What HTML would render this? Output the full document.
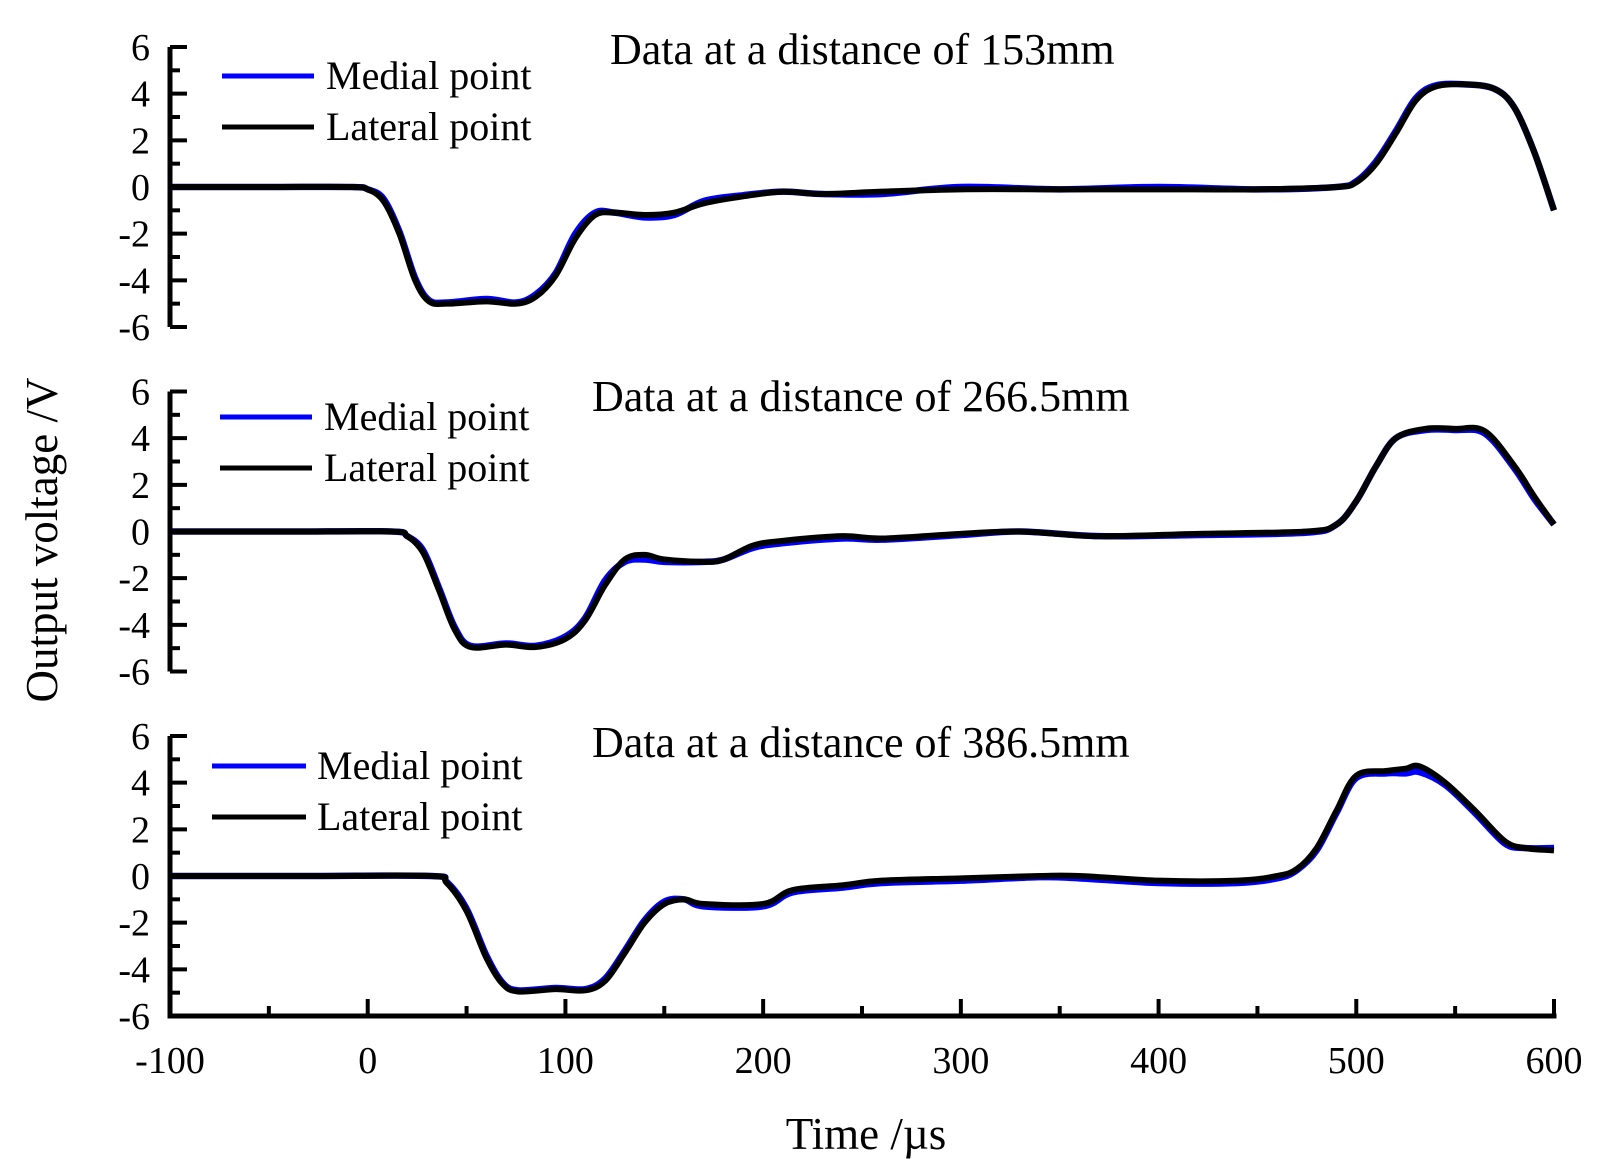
<!DOCTYPE html>
<html><head><meta charset="utf-8"><style>
html,body{margin:0;padding:0;background:#fff;}
svg{display:block;font-family:"Liberation Serif",serif;}
</style></head><body>
<svg id="chart" width="1603" height="1165" viewBox="0 0 1603 1165" xmlns="http://www.w3.org/2000/svg"></svg>
<script>
const xTicks = [-100,0,100,200,300,400,500,600];
const yTicks = [-6,-4,-2,0,2,4,6];
const panelTitles = ["Data at a distance of 153mm","Data at a distance of 266.5mm","Data at a distance of 386.5mm"];
const lateralT1 = [-100,-50,-8,0,8,16,24,31,40,60,75,85,95,105,115,125,140,155,170,190,210,230,260,300,350,400,450,490,500,510,520,530,540,555,570,580,590,600];
const lateralV1 = [0,0,0,-0.1,-0.6,-2.0,-4.0,-4.9,-5.0,-4.9,-5.0,-4.7,-3.8,-2.2,-1.2,-1.1,-1.2,-1.1,-0.7,-0.4,-0.2,-0.3,-0.2,-0.1,-0.1,-0.1,-0.1,0,0.2,1.0,2.3,3.7,4.3,4.4,4.2,3.4,1.5,-1.0];
const medialV1 = [0,0,0,-0.1,-0.5,-1.9,-3.9,-4.85,-4.95,-4.8,-4.95,-4.6,-3.7,-2.0,-1.1,-1.1,-1.3,-1.2,-0.6,-0.35,-0.2,-0.3,-0.3,0,-0.1,0,-0.1,0,0.25,1.1,2.4,3.8,4.35,4.4,4.2,3.4,1.5,-1.0];
const lateralT2 = [-100,-40,12,20,28,36,44,52,70,85,100,110,120,130,140,150,170,180,195,210,240,260,300,330,370,420,475,490,500,510,520,535,550,565,580,590,600];
const lateralV2 = [0,0,0,-0.2,-0.9,-2.5,-4.2,-4.95,-4.85,-4.95,-4.6,-3.8,-2.3,-1.2,-1.0,-1.2,-1.3,-1.2,-0.6,-0.4,-0.2,-0.3,-0.1,0,-0.2,-0.1,0,0.3,1.3,2.8,4.0,4.4,4.4,4.3,2.8,1.5,0.3];
const medialV2 = [0,0,0,-0.2,-0.8,-2.4,-4.1,-4.9,-4.8,-4.9,-4.5,-3.7,-2.1,-1.3,-1.2,-1.3,-1.3,-1.2,-0.7,-0.5,-0.3,-0.35,-0.15,0,-0.2,-0.15,-0.05,0.3,1.3,2.8,4.0,4.35,4.35,4.2,2.7,1.4,0.3];
const lateralT3 = [-100,-30,32,40,50,60,68,76,95,110,120,130,140,150,160,170,200,215,240,260,300,340,360,400,440,460,470,480,490,500,515,525,532,545,560,575,585,600];
const lateralV3 = [0,0,0,-0.3,-1.5,-3.5,-4.6,-4.95,-4.85,-4.9,-4.5,-3.3,-2.0,-1.2,-1.0,-1.2,-1.2,-0.6,-0.4,-0.2,-0.1,0,0,-0.2,-0.2,0,0.3,1.2,2.8,4.3,4.5,4.6,4.7,4.0,2.8,1.5,1.2,1.1];
const medialV3 = [0,0,0,-0.25,-1.4,-3.4,-4.55,-4.9,-4.8,-4.85,-4.4,-3.2,-1.9,-1.1,-1.0,-1.3,-1.3,-0.7,-0.5,-0.3,-0.2,-0.05,-0.1,-0.3,-0.3,-0.1,0.25,1.1,2.7,4.2,4.4,4.4,4.45,3.9,2.7,1.4,1.2,1.2];
const panelData = [
  {t:lateralT1, lat:lateralV1, med:medialV1},
  {t:lateralT2, lat:lateralV2, med:medialV2},
  {t:lateralT3, lat:lateralV3, med:medialV3}
];
const NS="http://www.w3.org/2000/svg";
const svg=document.getElementById('chart');
const X0=170, X1=1554;
const xs=t=>X0+(t+100)/700*(X1-X0);
const tops=[47,391.5,736], H=280;
function mk(tag,attrs,parent){const e=document.createElementNS(NS,tag);for(const k in attrs)e.setAttribute(k,attrs[k]);(parent||svg).appendChild(e);return e;}
function pathFor(ts,vs,ys){
  const pts=ts.map((t,i)=>[xs(t),ys(vs[i])]);
  let d=`M${pts[0][0]},${pts[0][1]}`;
  for(let i=0;i<pts.length-1;i++){
    const p0=pts[Math.max(0,i-1)],p1=pts[i],p2=pts[i+1],p3=pts[Math.min(pts.length-1,i+2)];
    const c1=[p1[0]+(p2[0]-p0[0])/6,p1[1]+(p2[1]-p0[1])/6];
    const c2=[p2[0]-(p3[0]-p1[0])/6,p2[1]-(p3[1]-p1[1])/6];
    d+=` C${c1[0]},${c1[1]} ${c2[0]},${c2[1]} ${p2[0]},${p2[1]}`;
  }
  return d;
}
const legendX=[[222,314,326],[220,312,324],[212,306,317]];
const legendY=[[76,127],[417,468],[766,817]];
const titleX=[610,592,592], titleY=[64,411,757];
panelData.forEach((pd,pi)=>{
  const top=tops[pi];
  const ys=v=>top+(6-v)/12*H;
  const g=mk('g',{});
  
  
  const ax=mk('line',{x1:X0,y1:top,x2:X0,y2:top+H,stroke:'#000','stroke-width':5},g);
  
  
  for(let v=-6;v<=6;v++){
    const maj=v%2===0;
    const tk=mk('line',{x1:X0,y1:ys(v),x2:X0+(maj?17:10),y2:ys(v),stroke:'#000','stroke-width':4},g);
    
    
  }
  yTicks.forEach(v=>{
    const tx=mk('text',{x:150,y:ys(v)+13,'text-anchor':'end','font-size':38},g);
    tx.textContent=String(v);
    
    
  });
  const med=mk('path',{d:pathFor(pd.t,pd.med,ys),fill:'none',stroke:'#0000ff','stroke-width':6.5,'stroke-linejoin':'round'},g);
  
  
  const lat=mk('path',{d:pathFor(pd.t,pd.lat,ys),fill:'none',stroke:'#000','stroke-width':6,'stroke-linejoin':'round'},g);
  
  
  const ti=mk('text',{x:titleX[pi],y:titleY[pi],'font-size':44},g);
  ti.textContent=panelTitles[pi];
  
  
  const lx=legendX[pi], ly=legendY[pi];
  const l1=mk('line',{x1:lx[0],y1:ly[0],x2:lx[1],y2:ly[0],stroke:'#0000ff','stroke-width':5},g);
  
  
  const t1=mk('text',{x:lx[2],y:ly[0]+13,'font-size':40},g);
  t1.textContent='Medial point';
  
  
  const l2=mk('line',{x1:lx[0],y1:ly[1],x2:lx[1],y2:ly[1],stroke:'#000','stroke-width':5},g);
  
  
  const t2=mk('text',{x:lx[2],y:ly[1]+13,'font-size':40},g);
  t2.textContent='Lateral point';
  
  
});
const yb=tops[2]+H;
const xa=mk('line',{x1:X0-2.5,y1:yb,x2:X1+2.5,y2:yb,stroke:'#000','stroke-width':5});


for(let t=-100;t<=600;t+=50){
  const maj=t%100===0;
  const tk=mk('line',{x1:xs(t),y1:yb,x2:xs(t),y2:yb-(maj?17:10),stroke:'#000','stroke-width':4});
  
  
}
xTicks.forEach(t=>{
  const tx=mk('text',{x:xs(t),y:1073,'text-anchor':'middle','font-size':38});
  tx.textContent=String(t);
  
  
});
const xt=mk('text',{x:866,y:1149,'text-anchor':'middle','font-size':45});
xt.textContent='Time /µs';


const yt=mk('text',{x:0,y:0,'text-anchor':'middle','font-size':45,transform:'translate(57,540) rotate(-90)'});
yt.textContent='Output voltage /V';


</script>
</body></html>
